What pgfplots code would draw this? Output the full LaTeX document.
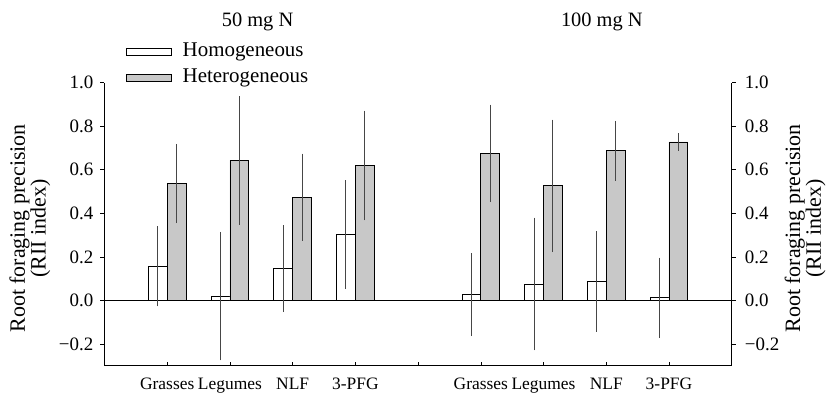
\documentclass[border=0pt]{standalone}
\usepackage{pgfplots}
\pgfplotsset{compat=1.18}
\usepackage{pgfplotstable}
\usepackage{fontspec}
\setmainfont{Liberation Serif}
\usetikzlibrary{calc}

\definecolor{bargrey}{RGB}{200,200,200}
\definecolor{errgrey}{RGB}{70,70,70}

% x = group position (1-4: 50 mg N, 6-9: 100 mg N), y = mean, e = error
\pgfplotstableread{
x y e
1 0.156 0.184
2 0.020 0.295
3 0.146 0.200
4 0.302 0.250
6 0.026 0.190
7 0.075 0.305
8 0.087 0.230
9 0.012 0.185
}\homog
\pgfplotstableread{
x y e
1 0.537 0.182
2 0.643 0.295
3 0.474 0.200
4 0.620 0.252
6 0.675 0.224
7 0.526 0.304
8 0.687 0.138
9 0.728 0.040
}\heterog

\begin{document}
\begin{tikzpicture}
\pgfplotsset{
  base/.style={
    scale only axis, width=627.2bp, height=283bp,
    xmin=0, xmax=10, ymin=-0.3, ymax=1.0,
    ytick={-0.2,0,0.2,0.4,0.6,0.8,1.0},
    yticklabels={−0.2,0.0,0.2,0.4,0.6,0.8,1.0},
    major tick length=4bp,
    tick style={black, line width=0.6bp},
    axis line style={line width=0.8bp},
    clip=false,
  }
}
\begin{axis}[base, name=ax,
  axis x line*=bottom, axis y line*=left,
  xtick align=inside, ytick align=outside,
  xtick={1,...,9},
  xticklabels={Grasses,Legumes,NLF,3-PFG,,Grasses,Legumes,NLF,3-PFG},
  xticklabel style={font=\fontsize{17.5}{18}\selectfont, anchor=base, inner sep=0pt, yshift=-24bp},
  yticklabel style={font=\fontsize{19}{19}\selectfont, anchor=east, inner sep=0pt, xshift=-7bp},
  legend style={draw=none, fill=none, at={(axis description cs:0.0343,1.156)}, anchor=north west,
    font=\fontsize{21}{21}\selectfont, inner sep=0pt, row sep=0pt,
    nodes={text height=14.5bp, text depth=4.5bp, inner ysep=3.5bp, inner xsep=0pt},
    /tikz/every odd column/.append style={column sep=11bp}},
  legend cell align=left,
]
\coordinate (bl) at (rel axis cs:0,0);
\addplot[black, line width=0.8bp, forget plot] coordinates {(0,0) (10,0)};
\addplot[ybar, bar width=0.3, bar shift=0, fill=white, draw=black, line width=0.8bp,
  legend image code/.code={\draw[black, line width=0.8bp, fill=white] (0bp,-3.5bp) rectangle (44.7bp,3.5bp);},
  error bars/.cd, y dir=both, y explicit, error mark=none,
  error bar style={errgrey, line width=1bp}]
  table[x expr=\thisrow{x}-0.15, y=y, y error=e] {\homog};
\addlegendentry{Homogeneous}
\addplot[ybar, bar width=0.3, bar shift=0, fill=bargrey, draw=black, line width=0.8bp,
  legend image code/.code={\draw[black, line width=0.8bp, fill=bargrey] (0bp,-3.5bp) rectangle (44.7bp,3.5bp);},
  error bars/.cd, y dir=both, y explicit, error mark=none,
  error bar style={errgrey, line width=1bp}]
  table[x expr=\thisrow{x}+0.15, y=y, y error=e] {\heterog};
\addlegendentry{Heterogeneous}
\node[font=\fontsize{20.5}{21}\selectfont, anchor=base] at (axis description cs:0.244,1.197) {50 mg N};
\node[font=\fontsize{20.5}{21}\selectfont, anchor=base] at (axis description cs:0.793,1.197) {100 mg N};
\node[rotate=90, align=center, font=\fontsize{22}{19}\selectfont] at (axis description cs:-0.119,0.485) {Root foraging precision\\(RII index)};
\node[rotate=90, align=center, font=\fontsize{22}{19}\selectfont] at (axis description cs:1.117,0.485) {Root foraging precision\\(RII index)};
\end{axis}
\begin{axis}[base, at={(ax.south west)}, anchor=south west,
  axis x line*=none, axis y line*=right, ytick align=outside,
  xtick=\empty,
  yticklabel style={font=\fontsize{19}{19}\selectfont, anchor=west, inner sep=0pt, xshift=9bp},
]
\end{axis}
\pgfresetboundingbox
\path ($(bl)+(-104.5bp,-30.3bp)$) rectangle ($(bl)+(726.5bp,365.7bp)$);
\end{tikzpicture}
\end{document}
